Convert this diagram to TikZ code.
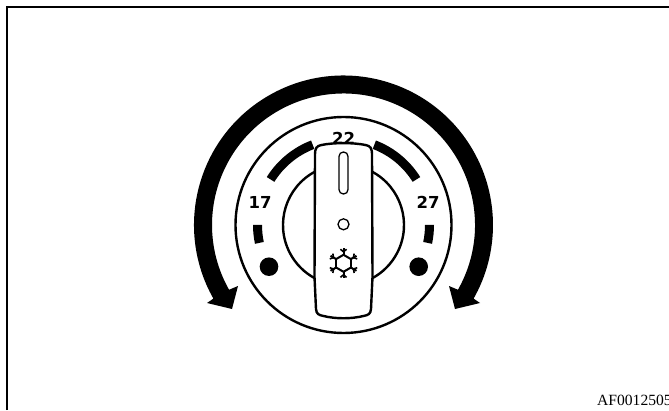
\documentclass[tikz,border=0pt]{standalone}
\usepackage{fontspec}
\setmainfont{Liberation Serif}
\newfontfamily\dialfont{DejaVu Sans}
\usepackage{tikz}
\tikzset{
  frameline/.style={draw=black,line width=1.8pt},
  dialline/.style={draw=black,line width=2.4pt},
  thinline/.style={draw=black,line width=1.3pt},
  flakeline/.style={draw=black,line width=2pt},
  dialnum/.style={font=\dialfont\bfseries\fontsize{16.5}{18}\selectfont,inner sep=0pt},
}
\newcommand{\dband}[2]{%
  \fill (#1:81.5) arc[start angle=#1,end angle=#2,radius=81.5] -- (#2:90.5)
    arc[start angle=#2,end angle=#1,radius=90.5] -- cycle;%
}
\newcommand{\flakearm}[1]{%
  \draw[flakeline] (#1:8.5) -- (#1+60:8.5);
  \draw[flakeline] (#1:8.5) -- (#1:15);
  \draw[flakeline,line width=1.6pt] (#1:11.5) -- ++(#1+50:4);
  \draw[flakeline,line width=1.6pt] (#1:11.5) -- ++(#1-50:4);%
}
\begin{document}
\begin{tikzpicture}[x=1pt,y=1pt]
  \clip (0,0) rectangle (669,410);
  \fill[white] (0,0) rectangle (669,410);
  \draw[frameline] (6.7,0) -- (6.7,403) -- (669,403);
  \node[anchor=base west,inner sep=0pt,font=\fontsize{15.6}{17}\selectfont] (idcode) at (597,5) {AF0012505};
  \begin{scope}[shift={(343.5,185)}]
    \fill (209.5:149.5) arc[start angle=209.5,end angle=-29.5,radius=149.5]
      -- (136.5,-78) -- (111.5,-84) -- (105.5,-61) -- (-29.5:131.5)
      arc[start angle=-29.5,end angle=209.5,radius=131.5]
      -- (-105.5,-61) -- (-111.5,-84) -- (-136.5,-78) -- cycle;
    \draw[dialline] (0,0) circle (108);
    \dband{148}{111}\dband{69}{32}
    \dband{180}{192}\dband{0}{-12}
    \fill (-74.5,-41.7) circle (9.3);
    \fill (75.2,-41.7) circle (9.3);
    \node[dialnum] (t17) at (-83.5,22.3) {17};
    \node[dialnum] (t27) at (84.5,22.3) {27};
    \node[dialnum] (t22) at (0,87) {22};
    \draw[dialline] (117.6:60.5) arc[start angle=117.6,end angle=242.4,radius=60.5];
    \draw[dialline] (62.4:60.5) arc[start angle=62.4,end angle=-62.4,radius=60.5];
    \draw[dialline,fill=white] (-28.5,70) .. controls (-28.5,77) and (-27,79) .. (-22,80)
      .. controls (-10,82.5) and (10,82.5) .. (22,80)
      .. controls (27,79) and (28.5,77) .. (28.5,70)
      -- (29,-52) -- (27.5,-84)
      .. controls (27,-89) and (25,-90) .. (20,-91)
      .. controls (8,-94) and (-8,-94) .. (-20,-91)
      .. controls (-25,-90) and (-27,-89) .. (-27.5,-84)
      -- (-29,-52) -- cycle;
    \draw[thinline,rounded corners=4.4pt] (-4.5,31) rectangle (4.5,73);
    \draw[thinline] (0,0.7) circle (5.5);
    \begin{scope}[shift={(0,-38.3)}]
      \foreach \a in {30,90,...,330}{\flakearm{\a}}
    \end{scope}
  \end{scope}
\end{tikzpicture}
\end{document}
